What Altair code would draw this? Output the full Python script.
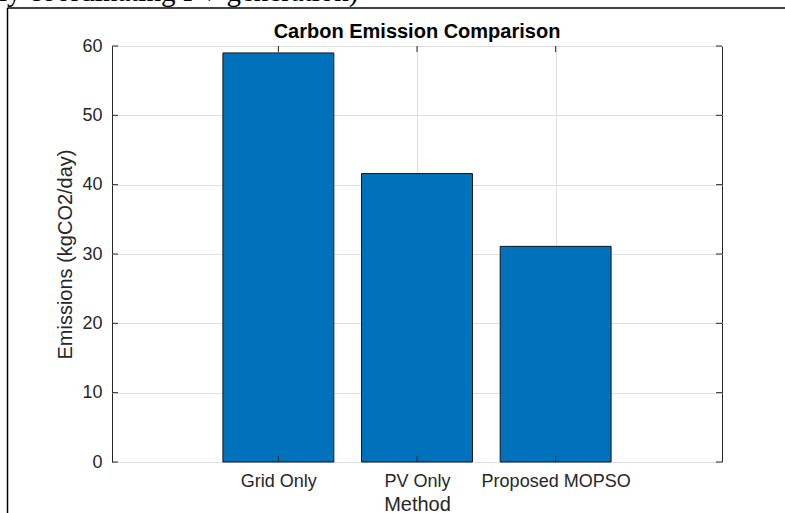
import altair as alt
import pandas as pd

# ---- data ----
methods = ["Grid Only", "PV Only", "Proposed MOPSO"]
emissions = [59.0, 41.6, 31.1]
positions = [1, 2, 3]
y_ticks = [0, 10, 20, 30, 40, 50, 60]
x_limits = [-0.2, 4.2]
y_limits = [0, 60]
bar_width = 0.8
title_text = "Carbon Emission Comparison"
x_title = "Method"
y_title = "Emissions (kgCO2/day)"
doc_text = "ly coordinating PV generation)"

# ---- layout ----
W, H = 610, 416
PAD = {"left": 112, "top": 46, "right": 63, "bottom": 51}
FONT = "Liberation Sans"
AX = "#262626"
TICK = 6

df = pd.DataFrame({"Method": methods, "Emissions": emissions, "pos": positions})
ytick_df = pd.DataFrame({"Emissions": y_ticks})
xtick_df = pd.DataFrame({"x0": positions})
one = pd.DataFrame({"a": [0]})

label_expr = "''"
for p, m in reversed(list(zip(positions, methods))):
    label_expr = f"datum.value == {p} ? '{m}' : ({label_expr})"

xs = alt.Scale(domain=x_limits, nice=False, zero=False)
ys = alt.Scale(domain=y_limits, nice=False, zero=True)

x_axis = alt.Axis(
    values=positions, labelExpr=label_expr, title=x_title, grid=True,
    labelPadding=10, titleY=48, titleBaseline="alphabetic",
)
y_axis = alt.Axis(
    values=y_ticks, title=y_title, grid=True, labelPadding=10,
    titleX=-41, titleY=H / 2, titleBaseline="alphabetic", titleAlign="center",
    titleAngle=270,
)

bars = alt.Chart(df).transform_calculate(
    x0=f"datum.pos - {bar_width / 2}",
    x1=f"datum.pos + {bar_width / 2}",
).mark_rect(fill="#0072BD", stroke="#151515", strokeWidth=1).encode(
    x=alt.X("x0:Q", scale=xs, axis=x_axis),
    x2="x1:Q",
    y=alt.Y("Emissions:Q", scale=ys, axis=y_axis),
    y2=alt.datum(0),
)

left_ticks = alt.Chart(ytick_df).mark_rule(color=AX, strokeWidth=1).encode(
    y=alt.Y("Emissions:Q", scale=ys, axis=y_axis), x=alt.value(0), x2=alt.value(TICK))
right_ticks = alt.Chart(ytick_df).mark_rule(color=AX, strokeWidth=1).encode(
    y=alt.Y("Emissions:Q", scale=ys, axis=y_axis), x=alt.value(W - TICK), x2=alt.value(W))
top_ticks = alt.Chart(xtick_df).mark_rule(color=AX, strokeWidth=1).encode(
    x=alt.X("x0:Q", scale=xs, axis=x_axis), y=alt.value(0), y2=alt.value(TICK))
bottom_ticks = alt.Chart(xtick_df).mark_rule(color=AX, strokeWidth=1).encode(
    x=alt.X("x0:Q", scale=xs, axis=x_axis), y=alt.value(H - TICK), y2=alt.value(H))

# chart title as a text mark (kept independent of the page elements above it)
title_mark = alt.Chart(one).mark_text(
    align="center", baseline="alphabetic", font=FONT, fontSize=20,
    fontWeight="bold", color="#000000").encode(
    x=alt.value(W / 2), y=alt.value(-8), text=alt.value(title_text))

# document frame lines and cut-off text of the page the figure sits in
doc_top = alt.Chart(one).mark_rule(color="#000000", strokeWidth=1.5).encode(
    x=alt.value(-104.5), x2=alt.value(W + PAD["right"] + 5), y=alt.value(-38))
doc_left = alt.Chart(one).mark_rule(color="#000000", strokeWidth=1.5).encode(
    x=alt.value(-104.5), y=alt.value(-38), y2=alt.value(H + PAD["bottom"] + 5))
doc_txt = alt.Chart(one).mark_text(
    align="left", baseline="alphabetic", font="Liberation Serif", fontSize=29,
    color="#000000").encode(
    x=alt.value(-113), y=alt.value(-45), text=alt.value(doc_text))

chart = alt.layer(
    bars, left_ticks, right_ticks, top_ticks, bottom_ticks,
    title_mark, doc_top, doc_left, doc_txt
).properties(
    width=W, height=H,
    autosize=alt.AutoSizeParams(type="none"),
    padding=PAD,
    background="white",
).configure_view(
    stroke=AX, strokeWidth=1,
).configure_axis(
    domain=False, ticks=False, tickSize=0,
    labelFont=FONT, labelFontSize=18, labelColor=AX,
    titleFont=FONT, titleFontSize=20, titleFontWeight="normal", titleColor=AX,
    gridColor="#dedede", gridWidth=1,
)

chart.save("out.html", embed_options={"renderer": "svg", "actions": False})
